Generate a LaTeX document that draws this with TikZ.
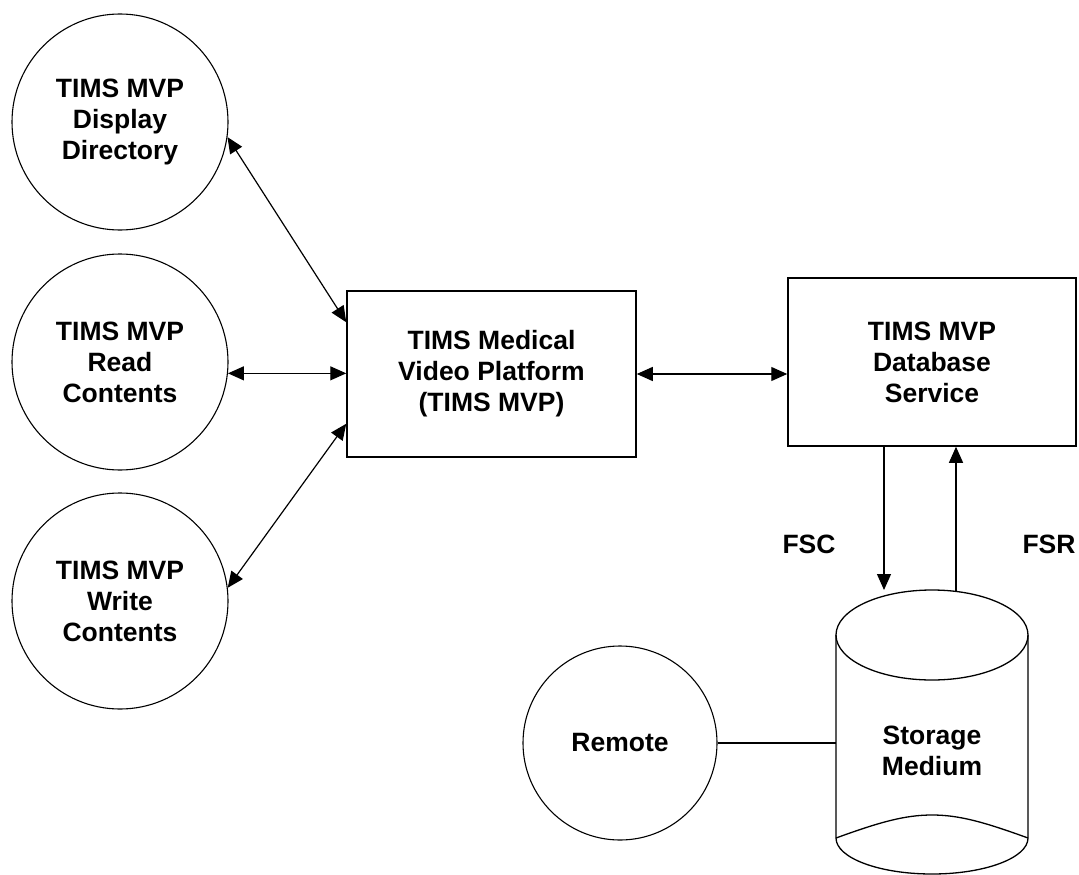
\documentclass[tikz,border=0pt]{standalone}
\usepackage{fontspec}
\setmainfont{Liberation Sans}
\usetikzlibrary{arrows.meta,calc}
\tikzset{
  txt/.style={font=\fontsize{26.5}{31}\selectfont\bfseries, align=center},
  proc/.style={txt, circle, draw, line width=1.1pt, minimum size=216pt, inner sep=0pt},
  remproc/.style={txt, circle, draw, line width=1.1pt, minimum size=194pt, inner sep=0pt},
  box/.style={txt, rectangle, draw, line width=1.5pt, inner sep=0pt},
  conn/.style={line width=1.2pt},
  tip/.style={Triangle[length=16pt,width=14pt]},
  dbl/.style={conn, {Triangle[length=16pt,width=14pt]}-{Triangle[length=16pt,width=14pt]}},
  one/.style={conn, -{Triangle[length=16pt,width=14pt]}},
  lbl/.style={txt}
}
\begin{document}
\begin{tikzpicture}[x=1pt,y=1pt]
\useasboundingbox (0,0) rectangle (1079,-875);
\fill[white] (0,0) rectangle (1079,-875);

\node[proc] (disp) at (120,-122) {TIMS MVP\\Display\\Directory};
\node[proc] (read) at (120,-362) {TIMS MVP\\Read\\Contents};
\node[proc] (write) at (120,-601) {TIMS MVP\\Write\\Contents};
\node[box, minimum width=289pt, minimum height=166pt] (mvp) at (491.5,-374) {TIMS Medical\\Video Platform\\(TIMS MVP)};
\node[box, minimum width=288pt, minimum height=168pt] (db) at (932,-362) {TIMS MVP\\Database\\Service};
\node[remproc] (remote) at (620,-743) {Remote};

% storage medium cylinder
\draw[line width=1.3pt] (836,-635) -- (836,-838) arc[start angle=180, end angle=360, x radius=96, y radius=36] -- (1028,-635);
\draw[line width=1.3pt] (932,-635) ellipse [x radius=96, y radius=45];
\draw[line width=1.3pt] (836,-838) .. controls (880,-822) and (905,-815) .. (932,-815) .. controls (959,-815) and (984,-822) .. (1028,-838);
\node[txt] (stor) at (932,-751) {Storage\\Medium};
\coordinate (cyltop) at (932,-590);
\coordinate (cylleft) at (836,-743);
\coordinate (fscx) at (884,-500);
\coordinate (fsrx) at (956,-500);

% connectors
\draw[dbl] (disp.-8) -- ($(mvp.north west)+(0,-32)$);
\draw[dbl] (read.-6.5) -- (read.-6.5 -| mvp.west);
\draw[dbl] (write.7) -- ($(mvp.south west)+(0,34)$);
\draw[dbl] (mvp.east) -- (mvp.east -| db.west);
\draw[one] (db.south -| fscx) -- (cyltop -| fscx);
\draw[one] ($(cyltop -| fsrx)+(0,-1)$) -- (db.south -| fsrx);
\draw[conn] (remote.east) -- (cylleft);

\node[lbl] (fsc) at (809,-544) {FSC};
\node[lbl] (fsr) at (1049,-544) {FSR};
\end{tikzpicture}
\end{document}
